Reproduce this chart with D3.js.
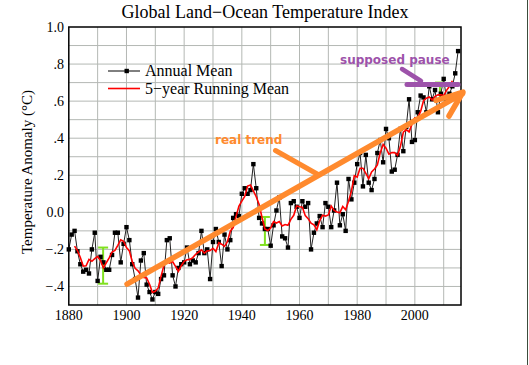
<!DOCTYPE html>
<html>
<head>
<meta charset="utf-8">
<script src="https://cdn.jsdelivr.net/npm/d3@7"></script>
<style>
  body { margin: 0; background: #fff; }
  svg { display: block; }
</style>
</head>
<body>
<svg id="chart" width="529" height="365"></svg>
<script>
// GISS land-ocean index, annual mean (°C), 1880..2015
const firstYear = 1880
const annualMean = [
  -0.20, -0.12, -0.10, -0.21, -0.28, -0.32, -0.31, -0.33, -0.20, -0.11,
  -0.37, -0.24, -0.27, -0.31, -0.31, -0.23, -0.11, -0.11, -0.27, -0.17,
  -0.08, -0.15, -0.28, -0.36, -0.46, -0.26, -0.22, -0.39, -0.43, -0.47,
  -0.43, -0.44, -0.36, -0.34, -0.15, -0.14, -0.34, -0.40, -0.30, -0.28,
  -0.27, -0.19, -0.28, -0.26, -0.27, -0.22, -0.10, -0.22, -0.20, -0.36,
  -0.16, -0.09, -0.16, -0.29, -0.12, -0.20, -0.15, -0.03, -0.01, -0.02,
   0.10,  0.13,  0.10,  0.12,  0.26,  0.13, -0.03, -0.06, -0.09, -0.09,
  -0.18, -0.07,  0.01,  0.08, -0.13, -0.14, -0.19,  0.05,  0.06,  0.03,
  -0.03,  0.06,  0.03,  0.05, -0.20, -0.11, -0.06, -0.02, -0.08,  0.05,
   0.03, -0.08,  0.01,  0.16, -0.07, -0.01, -0.10,  0.18,  0.07,  0.16,
   0.26,  0.32,  0.14,  0.31,  0.16,  0.12,  0.18,  0.32,  0.39,  0.27,
   0.45,  0.40,  0.22,  0.23,  0.31,  0.45,  0.33,  0.46,  0.61,  0.38,
   0.39,  0.54,  0.63,  0.62,  0.54,  0.68,  0.61,  0.66,  0.54,  0.64,
   0.72,  0.61,  0.64,  0.68,  0.75,  0.87
]

// 5-year running mean, 1882..2013
const runFirstYear = 1882
const runningMean = [
  -0.182, -0.206, -0.244, -0.290, -0.288, -0.254, -0.264, -0.250,
  -0.238, -0.260, -0.300, -0.272, -0.246, -0.214, -0.206, -0.178, -0.148, -0.156,
  -0.190, -0.208, -0.266, -0.302, -0.316, -0.338, -0.352, -0.354, -0.388, -0.432,
  -0.426, -0.408, -0.344, -0.286, -0.266, -0.274, -0.266, -0.292, -0.318, -0.288,
  -0.264, -0.256, -0.254, -0.244, -0.226, -0.214, -0.202, -0.220, -0.208, -0.206,
  -0.194, -0.212, -0.164, -0.172, -0.184, -0.158, -0.102, -0.082, -0.022,  0.034,
   0.060,  0.086,  0.142,  0.148,  0.116,  0.084,  0.042, -0.028, -0.090, -0.098,
  -0.084, -0.050, -0.058, -0.050, -0.074, -0.066, -0.070, -0.038, -0.016,  0.034,
   0.030,  0.028, -0.018, -0.034, -0.058, -0.068, -0.094, -0.044, -0.016, -0.020,
  -0.014,  0.034,  0.010,  0.002, -0.002,  0.032,  0.014,  0.060,  0.114,  0.198,
   0.190,  0.238,  0.238,  0.210,  0.182,  0.218,  0.234,  0.256,  0.322,  0.366,
   0.346,  0.314,  0.322,  0.322,  0.308,  0.356,  0.432,  0.446,  0.434,  0.476,
   0.510,  0.512,  0.544,  0.602,  0.616,  0.622,  0.606,  0.626,  0.634,  0.634,
   0.630,  0.658,  0.680,  0.710
]

const xTicks = [1880, 1900, 1920, 1940, 1960, 1980, 2000]
const yTicks = [1.0, 0.8, 0.6, 0.4, 0.2, 0.0, -0.2, -0.4]
const yTickLabels = ['1.0', '.8', '.6', '.4', '.2', '0.0', '\u2212.2', '\u2212.4']

// uncertainty bars: [year, low, high]
const errorBars = [[1891.9, -0.385, -0.19], [1948, -0.176, -0.025], [2008.7, 0.61, 0.70]]

const svg = d3.select('#chart')
const plotLeft = 68.8, plotRight = 461, plotTop = 27, plotBottom = 305

var x = d3.scaleLinear().domain([1880, 2016]).range([plotLeft, plotRight])
var y = d3.scaleLinear().domain([-0.5, 1.0]).range([plotBottom, plotTop])

const serif = '"Liberation Serif", "Times New Roman", serif'
const sans = '"DejaVu Sans", Verdana, sans-serif'

// grid
var grid = svg.append('g').attr('stroke', '#b4b8b4').attr('stroke-width', 1)
grid.selectAll('line.v')
  .data(d3.range(1890, 2016, 10))
  .enter().append('line')
  .attr('x1', d => x(d)).attr('x2', d => x(d))
  .attr('y1', plotTop).attr('y2', plotBottom)
grid.selectAll('line.h')
  .data(d3.range(-4, 10).map(d => d / 10))
  .enter().append('line')
  .attr('x1', plotLeft).attr('x2', plotRight)
  .attr('y1', d => y(d)).attr('y2', d => y(d))

// title
svg.append('text')
  .attr('x', 265).attr('y', 18)
  .attr('text-anchor', 'middle')
  .style('font-family', serif).style('font-size', '18px')
  .text('Global Land\u2212Ocean Temperature Index')

// axis labels
svg.selectAll('text.xt')
  .data(xTicks)
  .enter().append('text')
  .attr('x', d => x(d)).attr('y', 320)
  .attr('text-anchor', 'middle')
  .style('font-family', serif).style('font-size', '14px')
  .text(d => d)

svg.selectAll('text.yt')
  .data(yTicks)
  .enter().append('text')
  .attr('x', 64).attr('y', d => y(d) + 5)
  .attr('text-anchor', 'end')
  .style('font-family', serif).style('font-size', '14px')
  .text((d, i) => yTickLabels[i])

svg.append('text')
  .attr('transform', 'translate(32,172) rotate(-90)')
  .attr('text-anchor', 'middle')
  .style('font-family', serif).style('font-size', '15px')
  .text('Temperature Anomaly (\u00B0C)')

// uncertainty bars (green I shapes)
var eb = svg.append('g').attr('stroke', '#80e020').attr('stroke-width', 2)
errorBars.forEach(function(b) {
  eb.append('line').attr('x1', x(b[0])).attr('x2', x(b[0])).attr('y1', y(b[1])).attr('y2', y(b[2]))
  eb.append('line').attr('x1', x(b[0]) - 5).attr('x2', x(b[0]) + 5).attr('y1', y(b[1])).attr('y2', y(b[1]))
  eb.append('line').attr('x1', x(b[0]) - 5).attr('x2', x(b[0]) + 5).attr('y1', y(b[2])).attr('y2', y(b[2]))
})

// annual mean line + markers
var annualLine = d3.line().x((d, i) => x(firstYear + i)).y(d => y(d))
svg.append('path')
  .attr('d', annualLine(annualMean))
  .attr('fill', 'none').attr('stroke', '#222').attr('stroke-width', 1)

svg.selectAll('rect.pt')
  .data(annualMean)
  .enter().append('rect')
  .attr('x', (d, i) => x(firstYear + i) - 2.2)
  .attr('y', d => y(d) - 2.2)
  .attr('width', 4.4).attr('height', 4.4)
  .attr('fill', '#000')

// running mean
var runLine = d3.line().x((d, i) => x(runFirstYear + i)).y(d => y(d))
svg.append('path')
  .attr('d', runLine(runningMean))
  .attr('fill', 'none').attr('stroke', '#ff0000').attr('stroke-width', 1.6)

// frame
svg.append('rect')
  .attr('x', plotLeft).attr('y', plotTop)
  .attr('width', plotRight - plotLeft).attr('height', plotBottom - plotTop)
  .attr('fill', 'none').attr('stroke', '#000').attr('stroke-width', 1.5)

// legend
svg.append('line').attr('x1', 108).attr('x2', 140).attr('y1', 71).attr('y2', 71)
  .attr('stroke', '#000').attr('stroke-width', 1)
svg.append('rect').attr('x', 124.5).attr('y', 68.8).attr('width', 4.4).attr('height', 4.4).attr('fill', '#000')
svg.append('text').attr('x', 145).attr('y', 76)
  .style('font-family', serif).style('font-size', '16px').text('Annual Mean')
svg.append('line').attr('x1', 108).attr('x2', 140).attr('y1', 88.5).attr('y2', 88.5)
  .attr('stroke', '#ff0000').attr('stroke-width', 1.6)
svg.append('text').attr('x', 145).attr('y', 93.5)
  .style('font-family', serif).style('font-size', '16px').text('5\u2212year Running Mean')

// hand-drawn annotations
const orange = '#ff8a2e', purple = '#9d52aa'
var ann = svg.append('g').attr('fill', 'none').attr('stroke-linecap', 'round')

ann.append('line') // trend
  .attr('x1', x(1900.2)).attr('y1', y(-0.387)).attr('x2', x(2016.5)).attr('y2', y(0.64))
  .attr('stroke', orange).attr('stroke-width', 5.5)
ann.append('polyline')
  .attr('points', [[436, 100.5], [463, 92], [449, 116]].join(' '))
  .attr('stroke', orange).attr('stroke-width', 5.5).attr('stroke-linejoin', 'round')
ann.append('line')
  .attr('x1', 275.5).attr('y1', 150.5).attr('x2', 318).attr('y2', 174.5)
  .attr('stroke', orange).attr('stroke-width', 5)
svg.append('text').attr('x', 215).attr('y', 143.5)
  .style('font-family', sans).style('font-weight', 'bold').style('font-size', '12px')
  .attr('fill', orange).text('real trend')

ann.append('line')
  .attr('x1', 402).attr('y1', 69).attr('x2', 421).attr('y2', 81)
  .attr('stroke', purple).attr('stroke-width', 4.5)
ann.append('line')
  .attr('x1', 407).attr('y1', 84.5).attr('x2', 458).attr('y2', 84.5)
  .attr('stroke', purple).attr('stroke-width', 5)
svg.append('text').attr('x', 340).attr('y', 64)
  .style('font-family', sans).style('font-weight', 'bold').style('font-size', '12px')
  .attr('fill', purple).text('supposed pause')

// right edge line of the original image
svg.append('line').attr('x1', 527.5).attr('x2', 527.5).attr('y1', 0).attr('y2', 365)
  .attr('stroke', '#3c4c3c').attr('stroke-width', 1)
</script>
</body>
</html>
